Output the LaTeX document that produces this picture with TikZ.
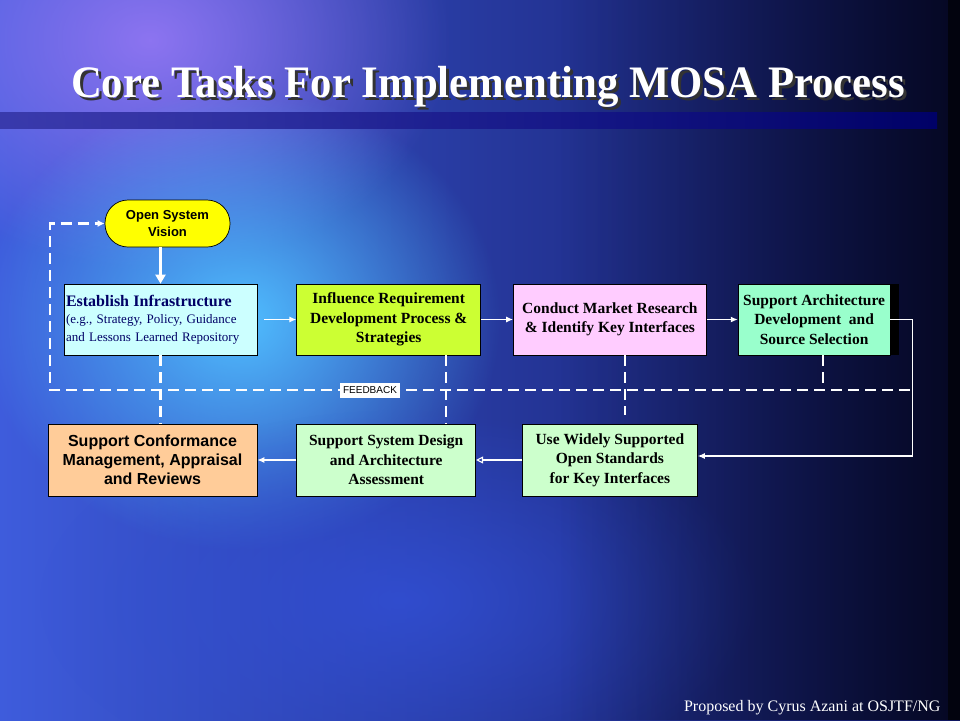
\documentclass[tikz,border=0pt]{standalone}
\usepackage{fontspec}
\setmainfont{Liberation Serif}
\setsansfont{Liberation Sans}
\newfontfamily\titlefont[FakeStretch=0.95]{Liberation Serif}
\usetikzlibrary{arrows.meta,positioning,shadows,fadings}

\definecolor{bgnavy}{RGB}{16,22,96}
\definecolor{bgleft}{RGB}{62,92,220}
\definecolor{blobpurple}{RGB}{150,120,245}
\definecolor{blobcyan}{RGB}{80,190,255}
\definecolor{blobblue}{RGB}{50,80,215}
\definecolor{visionyellow}{RGB}{255,255,0}
\definecolor{infracyan}{RGB}{204,255,255}
\definecolor{inflgreen}{RGB}{204,255,51}
\definecolor{marketpink}{RGB}{255,204,255}
\definecolor{archaqua}{RGB}{153,255,204}
\definecolor{confpeach}{RGB}{255,204,153}
\definecolor{paleMint}{RGB}{204,255,204}
\definecolor{textnavy}{RGB}{0,0,102}

\tikzfading[name=blobfade, inner color=transparent!0, outer color=transparent!100]
\tikzfading[name=darkright, left color=transparent!100, right color=transparent!20]

\begin{document}
\begin{tikzpicture}[x=1pt,y=-1pt,>=Latex,
  font=\bfseries\fontsize{15.5}{19.5}\selectfont,
  box/.style={draw=black,line width=0.7pt,minimum height=71pt,align=center,inner sep=2pt,text=black},
  flow/.style={draw=white,line width=1.1pt,-{Latex[length=7pt,width=6pt]}},
  fb/.style={draw=white,line width=2.2pt,dash pattern=on 11pt off 6pt}]
\useasboundingbox (0,0) rectangle (960,720);
% background
\begin{scope}
\clip (0,0) rectangle (960,720);
\shade[left color=bgleft,right color=bgnavy] (0,0) rectangle (960,720);
\fill[blobpurple,path fading=blobfade,opacity=0.9] (150,40) ellipse (300pt and 230pt);
\fill[blobcyan,path fading=blobfade] (240,320) ellipse (260pt and 230pt);
\fill[blobblue,path fading=blobfade,opacity=0.8] (400,600) ellipse (360pt and 190pt);
\fill[black,path fading=darkright,opacity=0.8] (560,0) rectangle (960,720);
\fill[black,opacity=0.6] (948,0) rectangle (960,720);
\end{scope}
% title
\shade[left color=blue!55!black!80,right color=blue!45!black,opacity=0.85] (0,112) rectangle (937,128);
\node[anchor=base,text=black!80,font=\titlefont\bfseries\fontsize{45}{45}\selectfont] (titleshadow) at (491,100) {Core Tasks For Implementing MOSA Process};
\node[anchor=base,text=white,font=\titlefont\bfseries\fontsize{45}{45}\selectfont] (title) at (488,97) {Core Tasks For Implementing MOSA Process};

% tasks
\node[box,fill=visionyellow,rounded corners=23pt,minimum width=125pt,minimum height=47pt,
  font=\sffamily\bfseries\fontsize{13}{17}\selectfont] (vis) at (167.5,223.5) {Open System\\Vision};
\node[box,fill=infracyan,align=left,text width=189pt,inner sep=2pt,text=textnavy,
  font=\mdseries\fontsize{13}{17.5}\selectfont] (est) at (160.5,319.5)
  {{\bfseries\fontsize{16}{17.5}\selectfont Establish Infrastructure}\\(e.g., Strategy, Policy, Guidance\\and Lessons Learned Repository};
\node[box,fill=inflgreen,minimum width=184pt,right=39pt of est] (infl) {Influence Requirement\\Development Process \&\\Strategies};
\node[box,fill=marketpink,minimum width=193pt,right=32pt of infl] (mkt) {Conduct Market Research\\\& Identify Key Interfaces};
\node[box,fill=archaqua,minimum width=152pt,right=31pt of mkt,inner sep=1pt,
  general shadow={fill=black,shadow xshift=9pt,shadow yshift=0pt}] (arch) {Support Architecture\\Development~~and\\Source Selection};

\node[box,fill=confpeach,minimum width=209pt,minimum height=72pt,
  font=\sffamily\bfseries\fontsize{16}{19}\selectfont] (conf) at (152.5,460) {Support Conformance\\Management, Appraisal\\and Reviews};
\node[box,fill=paleMint,minimum width=179pt,minimum height=72pt,right=39pt of conf] (sysd) {Support System Design\\and Architecture\\Assessment};
\node[box,fill=paleMint,minimum width=175pt,minimum height=72pt,right=46pt of sysd] (stds) {Use Widely Supported\\Open Standards\\for Key Interfaces};

% flow
\draw[draw=white,line width=3pt,-{Triangle[length=9pt,width=10pt]}] (est.north |- vis.south) -- (est.north);
\draw[flow] ([xshift=7pt]est.east) -- (infl.west);
\draw[flow] (infl) -- (mkt);
\draw[flow] (mkt) -- (arch);
\draw[flow] (arch.east) -- ++(22,0) |- ([yshift=4pt]stds.east);
\draw[draw=white,line width=1.1pt,-{Triangle[open,length=7pt,width=7pt]}] (stds) -- (sysd);
\draw[flow] (sysd) -- (conf);

% feedback
\coordinate (fbR) at (910,390);
\coordinate (fbL) at (50,390);
\draw[fb,-{Latex[length=7pt,width=7pt]}] (fbR) -- (fbL) |- (vis.west);
\draw[fb] (est.south) -- (est.south |- conf.north);
\draw[fb] ([xshift=57pt]infl.south) -- ([xshift=57pt]infl.south |- sysd.north);
\draw[fb,shorten >=9pt] ([xshift=15pt]mkt.south) -- ([xshift=15pt]mkt.south |- stds.north);
\draw[fb] ([xshift=9pt]arch.south) -- ([xshift=9pt]arch.south |- fbR);
\node[fill=white,text=black,font=\sffamily\mdseries\fontsize{10}{10}\selectfont,
  minimum width=60pt,minimum height=15pt,inner sep=1pt] (fblabel) at (370,390) {FEEDBACK};

\node[anchor=base east,text=white,font=\mdseries\fontsize{16}{16}\selectfont] (credit) at (944,711) {Proposed by Cyrus Azani at OSJTF/NG};
\end{tikzpicture}
\end{document}
